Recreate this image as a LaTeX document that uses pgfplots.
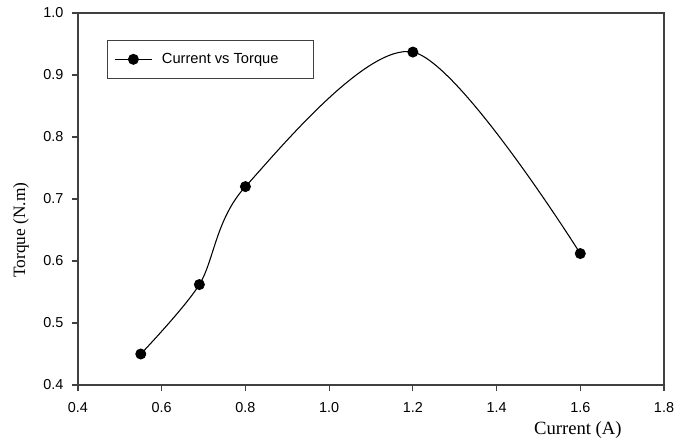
\documentclass[border=0pt]{standalone}
\usepackage{fontspec}
\setmainfont{Liberation Sans}
\newfontfamily\timesfont{Liberation Serif}
\usepackage{pgfplots}
\pgfplotsset{compat=1.18}
\usetikzlibrary{calc}
\begin{document}
\begin{tikzpicture}
\begin{axis}[
  scale only axis, width=439.5pt, height=279pt,
  xmin=0.4, xmax=1.8, ymin=0.4, ymax=1.0,
  xtick={0.4,0.6,0.8,1.0,1.2,1.4,1.6,1.8},
  ytick={0.4,0.5,0.6,0.7,0.8,0.9,1.0},
  tick pos=left, tick align=outside, major tick length=4.5pt,
  tick style={black!75, line width=0.8pt},
  axis line style={black!75, line width=0.9pt},
  tick label style={font=\fontsize{10.8}{12}\selectfont,
    /pgf/number format/fixed, /pgf/number format/fixed zerofill,
    /pgf/number format/precision=1, /pgf/number format/assume math mode=true},
  xticklabel style={yshift=-5pt},
  yticklabel style={xshift=-3pt},
  xlabel={Current (A)},
  xlabel style={font=\timesfont\fontsize{14}{16}\selectfont,
    at={(axis description cs:0.853,0)}, anchor=north, yshift=-24pt},
  ylabel={Torque (N.m)},
  ylabel style={font=\timesfont\fontsize{13}{15}\selectfont,
    at={(axis description cs:-0.0973,0.4167)}, anchor=center},
  legend style={at={(axis description cs:0.0495,0.9274)}, anchor=north west,
    draw=black!75, line width=0.8pt, font=\fontsize{11}{13}\selectfont,
    inner xsep=5pt, inner ysep=7.5pt},
  legend cell align=left,
  legend image code/.code={
    \draw[mark repeat=2, mark phase=2] plot coordinates {(0pt,0pt) (14pt,0pt) (28pt,0pt)};},
]
\addplot[black, line width=0.8pt, smooth, mark=*, mark size=3.7pt,
  mark options={solid, fill=black}] coordinates {
(0.55,0.450) (0.69,0.562) (0.80,0.720) (1.20,0.937) (1.60,0.612)};
\addlegendentry{\rule{5pt}{0pt}Current vs Torque\rule{19pt}{0pt}}
\end{axis}
\pgfresetboundingbox
\path[use as bounding box] ($(current axis.south west)+(-58.5pt,-45pt)$)
  rectangle ($(current axis.north east)+(18.75pt,9.75pt)$);
\end{tikzpicture}
\end{document}
